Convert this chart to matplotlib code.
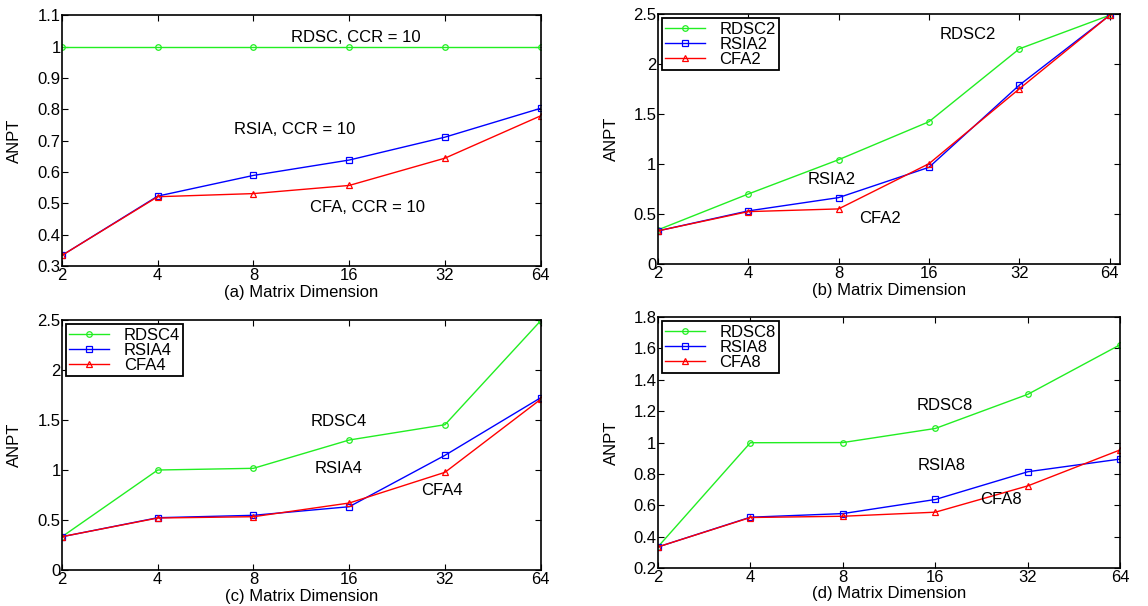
import numpy as np
import matplotlib
matplotlib.use('Agg')
import matplotlib.pyplot as plt
from matplotlib.ticker import NullLocator

plt.rcParams['font.family'] = ['Liberation Sans', 'DejaVu Sans']
plt.rcParams['font.size'] = 12

# matrix dimensions (x axis)
dims = [2, 4, 8, 16, 32, 64]

# (a) CCR = 10
rdsc_a = [1.0, 1.0, 1.0, 1.0, 1.0, 1.0]
rsia_a = [0.334, 0.523, 0.589, 0.638, 0.711, 0.803]
cfa_a = [0.334, 0.521, 0.531, 0.557, 0.644, 0.779]

# (b)
rdsc_b = [0.343, 0.702, 1.045, 1.425, 2.154, 2.49]
rsia_b = [0.333, 0.533, 0.666, 0.969, 1.791, 2.49]
cfa_b = [0.333, 0.526, 0.553, 1.005, 1.754, 2.49]

# (c)
rdsc_c = [0.333, 1.0, 1.017, 1.30, 1.453, 2.493]
rsia_c = [0.333, 0.523, 0.547, 0.633, 1.147, 1.723]
cfa_c = [0.333, 0.520, 0.533, 0.670, 0.977, 1.707]

# (d)
rdsc_d = [0.334, 0.999, 1.0, 1.09, 1.308, 1.625]
rsia_d = [0.334, 0.524, 0.547, 0.637, 0.814, 0.895]
cfa_d = [0.334, 0.522, 0.530, 0.556, 0.724, 0.954]

green = '#22ee22'
blue = '#0000ff'
red = '#ff0000'
fs = 12

fig = plt.figure(figsize=(11.48, 6.06), dpi=100)

def setup(ax, xlab, ylim, yticks, yticklabels, xlab_y, xmax=64):
    ax.set_xscale('log', base=2)
    ax.set_xlim(2, xmax)
    ax.set_xticks(dims)
    ax.set_xticklabels([str(d) for d in dims])
    ax.xaxis.set_minor_locator(NullLocator())
    ax.set_ylim(ylim)
    ax.set_yticks(yticks)
    ax.set_yticklabels(yticklabels)
    ax.tick_params(direction='in', top=True, right=True, length=4, width=0.8,
                   labelsize=fs)
    ax.tick_params(axis='x', pad=1.5)
    ax.tick_params(axis='y', pad=1)
    ax.set_xlabel(xlab, fontsize=fs, va='top')
    ax.xaxis.set_label_coords(0.5, xlab_y)
    ax.set_ylabel('ANPT', fontsize=fs)
    ax.yaxis.set_label_coords(-0.083, 0.5)
    for s in ax.spines.values():
        s.set_linewidth(1.2)

def draw(ax, r, s, c, labels=None):
    ax.plot(dims, r, '-o', color=green, lw=1, ms=4, mfc='none', mew=0.9,
            label=labels[0] if labels else None)
    ax.plot(dims, s, '-s', color=blue, lw=1, ms=4, mfc='none', mew=0.9,
            label=labels[1] if labels else None)
    ax.plot(dims, c, '-^', color=red, lw=1, ms=4.5, mfc='none', mew=0.9,
            label=labels[2] if labels else None)
    if labels:
        leg = ax.legend(loc='upper left', fancybox=False, edgecolor='black',
                        framealpha=1, fontsize=fs, handlelength=2.4,
                        handletextpad=0.85, labelspacing=0.0, borderpad=0.2,
                        borderaxespad=0.25)
        leg.get_frame().set_linewidth(1.3)

# (a)
ax = fig.add_axes([0.054, 0.561, 0.417, 0.414])
draw(ax, rdsc_a, rsia_a, cfa_a)
setup(ax, '(a) Matrix Dimension', (0.3, 1.1),
      np.arange(0.3, 1.11, 0.1),
      ['0.3', '0.4', '0.5', '0.6', '0.7', '0.8', '0.9', '1', '1.1'], -0.074)
ax.text(10.5, 1.028, 'RDSC, CCR = 10', ha='left', va='center', fontsize=fs)
ax.text(6.96, 0.734, 'RSIA, CCR = 10', ha='left', va='center', fontsize=fs)
ax.text(12.05, 0.488, 'CFA, CCR = 10', ha='left', va='center', fontsize=fs)

# (b)
ax = fig.add_axes([0.573, 0.564, 0.403, 0.4125])
draw(ax, rdsc_b, rsia_b, cfa_b, ['RDSC2', 'RSIA2', 'CFA2'])
setup(ax, '(b) Matrix Dimension', (0, 2.5),
      [0, 0.5, 1, 1.5, 2, 2.5], ['0', '0.5', '1', '1.5', '2', '2.5'],
      -0.074, xmax=69.5)
ax.text(17.4, 2.30, 'RDSC2', ha='left', va='center', fontsize=fs)
ax.text(6.33, 0.849, 'RSIA2', ha='left', va='center', fontsize=fs)
ax.text(9.39, 0.459, 'CFA2', ha='left', va='center', fontsize=fs)

# (c)
ax = fig.add_axes([0.054, 0.0594, 0.417, 0.4125])
draw(ax, rdsc_c, rsia_c, cfa_c, ['RDSC4', 'RSIA4', 'CFA4'])
setup(ax, '(c) Matrix Dimension', (0, 2.5),
      [0, 0.5, 1, 1.5, 2, 2.5], ['0', '0.5', '1', '1.5', '2', '2.5'], -0.074)
ax.text(12.08, 1.49, 'RDSC4', ha='left', va='center', fontsize=fs)
ax.text(12.43, 1.017, 'RSIA4', ha='left', va='center', fontsize=fs)
ax.text(27.0, 0.80, 'CFA4', ha='left', va='center', fontsize=fs)

# (d)
ax = fig.add_axes([0.573, 0.0627, 0.403, 0.414])
draw(ax, rdsc_d, rsia_d, cfa_d, ['RDSC8', 'RSIA8', 'CFA8'])
setup(ax, '(d) Matrix Dimension', (0.2, 1.8),
      np.arange(0.2, 1.81, 0.2),
      ['0.2', '0.4', '0.6', '0.8', '1', '1.2', '1.4', '1.6', '1.8'], -0.072)
ax.text(13.9, 1.238, 'RDSC8', ha='left', va='center', fontsize=fs)
ax.text(14.0, 0.856, 'RSIA8', ha='left', va='center', fontsize=fs)
ax.text(22.3, 0.639, 'CFA8', ha='left', va='center', fontsize=fs)

plt.savefig('out.png', dpi=100)
